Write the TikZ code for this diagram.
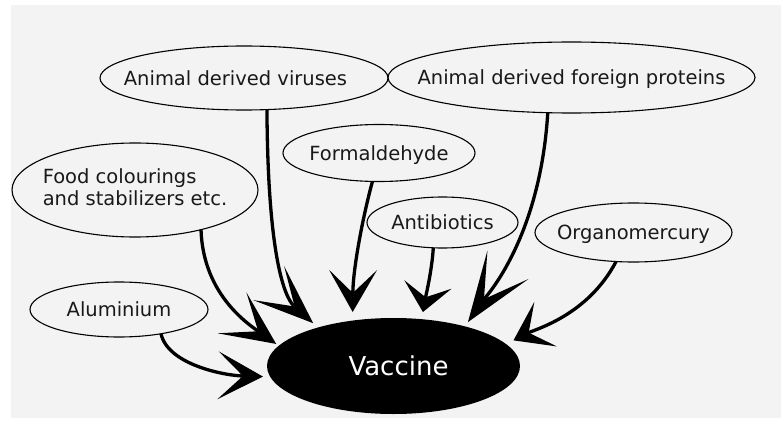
\documentclass[tikz,border=0pt]{standalone}
\usepackage{fontspec}
\setmainfont{DejaVu Sans}
\usetikzlibrary{shapes.geometric,arrows.meta}
\definecolor{page}{RGB}{243,243,243}
\newcommand\ctr[2][0pt]{\makebox[0pt]{\hspace*{#1}#2}}
\begin{document}
\begin{tikzpicture}[x=1pt,y=-1pt,
  blob/.style={ellipse, draw=black, line width=1.1pt, inner sep=0pt, outer sep=0pt,
    font=\fontsize{19.5}{21.5}\selectfont, text=black!90},
  oneline/.style={text height=14.2pt, text depth=0pt},
  conn/.style={line width=3.3pt, draw=black},
  headed/.style n args={4}{arrows={-Stealth[length=#1pt,width=#2pt,inset=#3pt,line width=0pt]}, shorten >=#4pt}]
\useasboundingbox (0,0) rectangle (781,425);
\fill[white] (0,0) rectangle (781,425);
\fill[page] (11,5) rectangle (781,418);

\node[blob, oneline, minimum width=288pt, minimum height=64pt] (vir) at (244,78) {\ctr[-17pt]{Animal derived viruses}};
\node[blob, oneline, minimum width=367pt, minimum height=71pt] (fp) at (571.5,77.5) {\ctr{Animal derived foreign proteins}};
\node[blob, oneline, minimum width=192pt, minimum height=57pt] (form) at (379,153) {\ctr{Formaldehyde}};
\node[blob, minimum width=246pt, minimum height=94pt] (food) at (135,190) {\ctr{\begin{tabular}{@{}l@{}}Food colourings\\and stabilizers etc.\end{tabular}}};
\node[blob, oneline, minimum width=151pt, minimum height=51pt] (anti) at (442.5,222.5) {\ctr{Antibiotics}};
\node[blob, oneline, minimum width=197pt, minimum height=59pt] (org) at (633.5,232.5) {\ctr{Organomercury}};
\node[blob, oneline, minimum width=178pt, minimum height=55pt] (alu) at (119,309.5) {\ctr{Aluminium}};
\node[ellipse, fill=black, inner sep=0pt, outer sep=0pt, minimum width=253pt, minimum height=96pt,
  text=white, font=\fontsize{26}{30}\selectfont, text height=19pt, text depth=0pt] (vac) at (393.5,366) {\ctr[10pt]{Vaccine}};

\draw[conn, headed={60}{46}{35}{6.4}] (vir.-54) .. controls (268,290) and (293,305) .. (vac.153);
\draw[conn, headed={42}{48}{23}{8.6}] (form.-103.8) .. controls (362,220) and (353,270) .. (vac.132.1);
\draw[conn, headed={28}{48}{13}{7.3}] (anti.-110.6) .. controls (432,270) and (426,295) .. (vac.59.8);
\draw[conn, headed={70}{50}{42}{5.2}] (fp.-124.8) .. controls (540,240) and (484.4,298.5) .. (vac.29.8);
\draw[conn, headed={36}{50}{19}{8.3}] (org.-121.4) .. controls (588,315) and (536,329) .. (vac.11.4);
\draw[conn, headed={54}{50}{32}{3.2}] (food.-31.5) .. controls (203,290) and (241.9,319.8) .. (vac.170);
\draw[conn, headed={45}{48}{25}{7.3}] (alu.-30.8) .. controls (168,365) and (225,375.5) .. (vac.185.2);
\end{tikzpicture}
\end{document}
